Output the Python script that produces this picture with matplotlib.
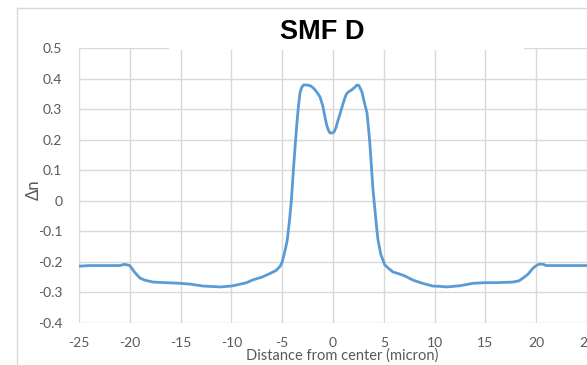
import matplotlib.pyplot as plt
from matplotlib.lines import Line2D

# Refractive index profile
# -----------------------------------------------
dist = [-25, -24, -23, -22, -21, -20.5, -20, -19.5, -19, -18.5, -17.7, -16.5,
        -15.1, -14, -12.8, -11.1, -10, -9.4, -8.5, -7.9, -7, -6.2, -5.6, -5.2,
        -5.0, -4.7, -4.5, -4.3, -4.1, -3.9, -3.7, -3.55, -3.4, -3.25, -3.1,
        -2.9, -2.6, -2.2, -1.9, -1.6, -1.28, -1.0, -0.79, -0.6, -0.45, -0.3,
        -0.1, 0.1, 0.3, 0.5, 0.7, 0.89, 1.1, 1.3, 1.5, 1.8, 2.1, 2.36, 2.55,
        2.85, 3.1, 3.35, 3.6, 3.94, 4.13, 4.3, 4.43, 4.7, 5.1, 5.5, 5.9, 6.4,
        7.0, 7.9, 8.8, 9.8, 10.5, 11.2, 12.5, 13.8, 15.0, 16.1, 17.7, 18.3,
        18.7, 19.2, 19.7, 20.1, 20.4, 20.7, 21.0, 22, 23, 24, 25]
dn = [-0.214, -0.212, -0.212, -0.212, -0.212, -0.208, -0.212, -0.235, -0.253,
      -0.26, -0.266, -0.268, -0.27, -0.273, -0.279, -0.282, -0.279, -0.275,
      -0.268, -0.259, -0.25, -0.238, -0.228, -0.214, -0.2, -0.16, -0.128,
      -0.07, 0.0, 0.1, 0.19, 0.255, 0.31, 0.353, 0.37, 0.379, 0.379, 0.376,
      0.368, 0.356, 0.34, 0.31, 0.274, 0.245, 0.231, 0.222, 0.222, 0.225,
      0.24, 0.264, 0.285, 0.307, 0.33, 0.348, 0.356, 0.362, 0.37, 0.379,
      0.377, 0.356, 0.32, 0.287, 0.2, 0.035, -0.03, -0.09, -0.128, -0.175,
      -0.21, -0.222, -0.233, -0.238, -0.245, -0.26, -0.27, -0.279, -0.28,
      -0.282, -0.278, -0.27, -0.268, -0.268, -0.266, -0.262, -0.253, -0.24,
      -0.22, -0.21, -0.207, -0.208, -0.212, -0.212, -0.212, -0.212, -0.212]

xticks = [-25, -20, -15, -10, -5, 0, 5, 10, 15, 20, 25]
yticks = [-0.4, -0.3, -0.2, -0.1, 0, 0.1, 0.2, 0.3, 0.4, 0.5]
ytick_labels = ['-0.4', '-0.3', '-0.2', '-0.1', '0', '0.1', '0.2', '0.3', '0.4', '0.5']

plt.rcParams['font.family'] = ['Lato', 'DejaVu Sans']
plt.rcParams['axes.unicode_minus'] = False

fig = plt.figure(figsize=(5.87, 3.65), dpi=100)

# Outer chart border (cropped at right and bottom)
fig.add_artist(Line2D([17 / 587, 1], [1 - 8 / 365, 1 - 8 / 365], color='#d9d9d9', lw=1))
fig.add_artist(Line2D([17 / 587, 17 / 587], [0, 1 - 8 / 365], color='#d9d9d9', lw=1))

ax = fig.add_axes([79 / 587, 1 - 323 / 365, 508 / 587, 275 / 365])
ax.plot(dist, dn, color='#5b9bd5', lw=2)

ax.set_xlim(-25, 25)
ax.set_ylim(-0.4, 0.5)
ax.set_xticks(xticks)
ax.set_yticks(yticks)
ax.set_yticklabels(ytick_labels)
ax.grid(True, color='#d9d9d9', lw=1)
ax.set_axisbelow(True)
for s in ax.spines.values():
    s.set_visible(False)
ax.tick_params(length=0, colors='#595959', labelsize=10)
ax.tick_params(axis='x', pad=10)
ax.tick_params(axis='y', pad=12)

ax.set_xlabel('Distance from center (micron)', fontsize=10.5, color='#595959', labelpad=0)
ax.xaxis.set_label_coords(263 / 508, -25 / 275)
ax.set_ylabel('Δn', fontsize=12, color='#595959')
ax.yaxis.set_label_coords(-37 / 508, (323 - 190) / 275)

# Title with white box hiding the top gridline
fig.text(322 / 587, 1 - 32 / 365, 'SMF D', fontsize=19.5, fontweight='bold',
         family='Liberation Sans', ha='center', va='center',
         bbox=dict(facecolor='white', edgecolor='none', pad=0))
fig.add_artist(Line2D([170 / 587, 522 / 587], [1 - 48 / 365, 1 - 48 / 365],
                      color='white', lw=2))

fig.savefig('out.png', dpi=100)
